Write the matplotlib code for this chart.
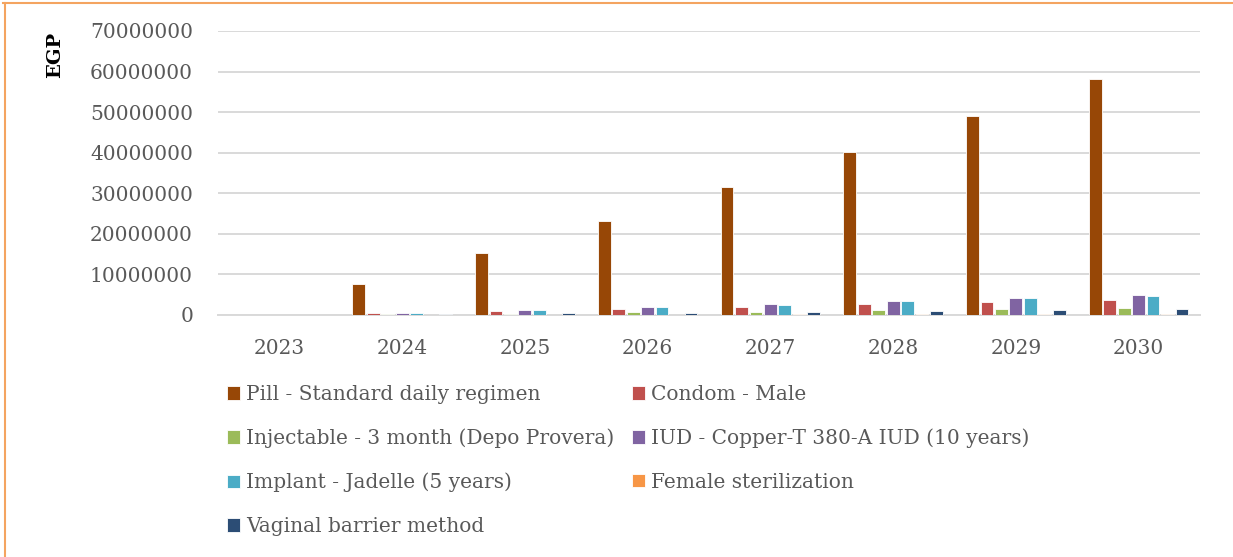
import matplotlib
matplotlib.use("Agg")
import matplotlib.pyplot as plt
from matplotlib.lines import Line2D
import numpy as np

years = ["2023", "2024", "2025", "2026", "2027", "2028", "2029", "2030"]
series_names = [
    "Pill - Standard daily regimen",
    "Condom - Male",
    "Injectable - 3 month (Depo Provera)",
    "IUD - Copper-T 380-A IUD (10 years)",
    "Implant - Jadelle (5 years)",
    "Female sterilization",
    "Vaginal barrier method",
]
pill = [0, 7600000, 15300000, 23200000, 31500000, 40100000, 49000000, 58100000]
condom = [0, 550000, 1000000, 1550000, 2000000, 2600000, 3200000, 3800000]
injectable = [0, 150000, 350000, 750000, 850000, 1150000, 1400000, 1700000]
iud = [0, 550000, 1300000, 1900000, 2650000, 3450000, 4200000, 4900000]
implant = [0, 550000, 1200000, 1900000, 2550000, 3350000, 4100000, 4800000]
female_ster = [0, 50000, 80000, 120000, 180000, 220000, 250000, 300000]
vaginal = [0, 200000, 400000, 600000, 800000, 1100000, 1350000, 1600000]
series_values = [pill, condom, injectable, iud, implant, female_ster, vaginal]
colors = ["#974706", "#C0504D", "#9BBB59", "#8064A2", "#4BACC6", "#F79646", "#2C4D75"]

W, H = 1233, 557
fig = plt.figure(figsize=(W / 100, H / 100), dpi=100)
fig.patch.set_facecolor("white")
FONT = "DejaVu Serif"
FS = 14.5
TXT = "#595959"

ax = fig.add_axes([218 / W, 1 - 315 / H, (1200 - 218) / W, (315 - 31) / H])
x = np.arange(len(years))
step = 0.118
bw = 0.104
handles = []
for i, (name, vals, c) in enumerate(zip(series_names, series_values, colors)):
    b = ax.bar(x + (i - 3) * step, vals, width=bw, color=c, edgecolor="white",
               linewidth=0.6, label=name, zorder=3)
    handles.append(b)

ax.set_xlim(-0.5, len(years) - 0.5)
ax.set_ylim(0, 70000000)
ax.set_yticks(np.arange(0, 70000001, 10000000))
ax.set_yticklabels([str(v) for v in range(0, 70000001, 10000000)])
ax.set_xticks(x)
ax.set_xticklabels(years)
for lab in ax.get_xticklabels() + ax.get_yticklabels():
    lab.set_fontfamily(FONT)
    lab.set_fontsize(FS)
    lab.set_color(TXT)
ax.tick_params(axis="both", length=0)
ax.tick_params(axis="y", pad=18)
ax.tick_params(axis="x", pad=17)
ax.grid(axis="y", color="#D9D9D9", linewidth=1.4, zorder=0)
for s in ["top", "right", "left"]:
    ax.spines[s].set_visible(False)
ax.spines["bottom"].set_color("#D9D9D9")
ax.spines["bottom"].set_linewidth(1.4)

fig.text(55 / W, 1 - 55 / H, "EGP", rotation=90, ha="center", va="center",
         fontfamily=FONT, fontsize=14, fontweight="bold", color="black")

order = [0, 2, 4, 6, 1, 3, 5]
leg = fig.legend([handles[k] for k in order], [series_names[k] for k in order],
                 ncol=2, loc="upper left", bbox_to_anchor=(227 / W, 1 - 385 / H),
                 frameon=False, prop={"family": FONT, "size": FS},
                 handlelength=0.65, handleheight=0.65, handletextpad=0.3,
                 labelspacing=1.22, columnspacing=0.85, borderaxespad=0, borderpad=0)
for t in leg.get_texts():
    t.set_color(TXT)

# orange frame lines
fig.add_artist(Line2D([3 / W, 1], [1 - 3 / H, 1 - 3 / H], transform=fig.transFigure,
                      color="#F4A460", linewidth=1.5))
fig.add_artist(Line2D([5 / W, 5 / W], [0, 1 - 3 / H], transform=fig.transFigure,
                      color="#F4A460", linewidth=1.5))

fig.savefig("out.png", dpi=100)
